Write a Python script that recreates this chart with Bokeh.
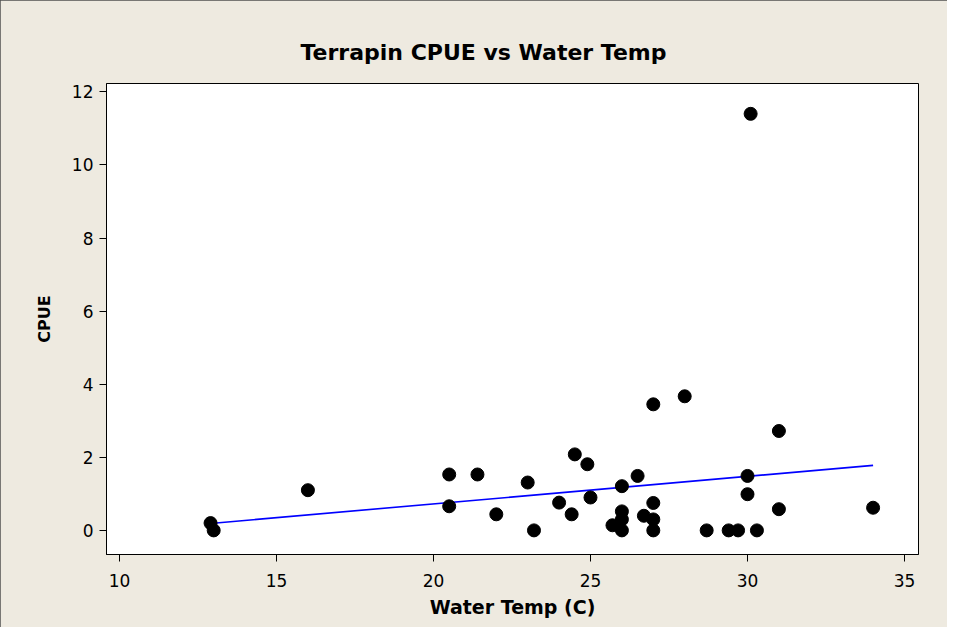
from bokeh.plotting import figure
from bokeh.models import FixedTicker, Range1d
from bokeh.embed import file_html
from bokeh.resources import INLINE

# Data
water_temp = [12.9, 13.0, 16.0, 20.5, 20.5, 21.4, 22.0, 23.0, 23.2, 24.0, 24.4, 24.5,
              24.9, 25.0, 25.7, 26.0, 26.0, 26.0, 26.0, 26.5, 26.7, 27.0, 27.0, 27.0,
              27.0, 28.0, 28.7, 29.4, 29.7, 30.3, 30.0, 30.0, 30.1, 31.0, 31.0, 34.0]
cpue = [0.2, 0.0, 1.1, 1.53, 0.66, 1.53, 0.44, 1.31, 0.0, 0.76, 0.44, 2.08,
        1.81, 0.9, 0.14, 1.21, 0.52, 0.3, 0.0, 1.49, 0.4, 3.45, 0.75, 0.3,
        0.0, 3.67, 0.0, 0.0, 0.0, 0.0, 1.49, 0.99, 11.4, 2.72, 0.58, 0.62]

# Fitted line endpoints
fit_x = [12.9, 34.0]
fit_y = [0.19, 1.78]

x_ticks = [10, 15, 20, 25, 30, 35]
y_ticks = [0, 2, 4, 6, 8, 10, 12]

BG = "#EEEAE0"
FONT = "DejaVu Sans"

p = figure(width=947, height=627, output_backend="svg", toolbar_location=None,
           x_range=Range1d(9.586, 35.446), y_range=Range1d(-0.66, 12.23),
           min_border_left=106, min_border_right=29, min_border_top=83,
           min_border_bottom=73)

p.background_fill_color = "white"
p.border_fill_color = BG
p.outline_line_color = "black"
p.outline_line_width = 1
p.styles = {"outline": "1px solid #505050", "outline-offset": "-1px"}

p.title.text = "Terrapin CPUE vs Water Temp"
p.title.align = "left"
p.title.text_font = FONT
p.title.text_font_size = "22px"
p.title.text_font_style = "bold"
p.title.text_color = "black"
p.title.standoff = 37
p.title.offset = 194

p.xgrid.visible = False
p.ygrid.visible = False

for ax in (p.xaxis[0], p.yaxis[0]):
    ax.axis_line_color = "black"
    ax.major_tick_line_color = "black"
    ax.major_tick_out = 7
    ax.major_tick_in = 0
    ax.minor_tick_line_color = None
    ax.major_label_text_font = FONT
    ax.major_label_text_font_size = "17px"
    ax.major_label_text_color = "black"
    ax.axis_label_text_font = FONT
    ax.axis_label_text_font_style = "bold"
    ax.axis_label_text_color = "black"

p.xaxis.ticker = FixedTicker(ticks=x_ticks)
p.yaxis.ticker = FixedTicker(ticks=y_ticks)
p.xaxis.axis_label = "Water Temp (C)"
p.yaxis.axis_label = "CPUE"
p.xaxis.axis_label_text_font_size = "19px"
p.yaxis.axis_label_text_font_size = "16px"
p.xaxis.major_label_standoff = 12
p.yaxis.major_label_standoff = 6
p.xaxis.axis_label_standoff = 6
p.yaxis.axis_label_standoff = 15

p.line(fit_x, fit_y, line_color="#0000FF", line_width=1.6)
p.scatter(water_temp, cpue, size=13, fill_color="black", line_color="black")

open("out.html", "w").write(file_html(p, INLINE))
